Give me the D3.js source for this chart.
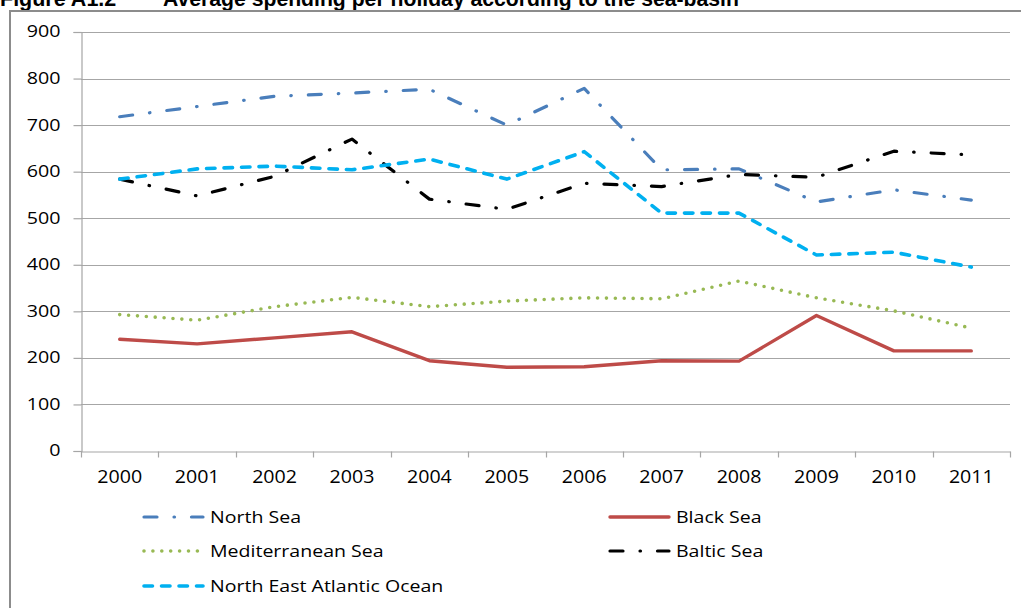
<!DOCTYPE html>
<html>
<head>
<meta charset="utf-8">
<script src="https://cdn.jsdelivr.net/npm/d3@7"></script>
<style>
  body { margin: 0; background: #fff; }
  svg { display: block; }
</style>
</head>
<body>
<svg id="chart" width="1021" height="608"></svg>
<script>
// data
const years = ['2000','2001','2002','2003','2004','2005','2006','2007','2008','2009','2010','2011'];
const northSea = [718, 740, 762, 769, 777, 700, 779, 604, 606, 535, 561, 539];
const blackSea = [240, 230, 243, 256, 194, 180, 181, 194, 193, 291, 215, 215];
const mediterranean = [293, 281, 310, 330, 310, 322, 329, 327, 365, 329, 301, 264];
const balticSea = [584, 548, 590, 670, 541, 519, 575, 568, 594, 588, 644, 636];
const neAtlantic = [584, 606, 612, 604, 627, 584, 643, 511, 511, 421, 427, 395];
const yTicks = [0, 100, 200, 300, 400, 500, 600, 700, 800, 900];

const seriesList = [
  { name: 'North Sea', values: northSea, color: '#4a7ebb', dash: '13,17,0.5,17', width: 3.2, col: 0, row: 0 },
  { name: 'Black Sea', values: blackSea, color: '#be4b48', dash: null, width: 3.4, col: 1, row: 0 },
  { name: 'Mediterranean Sea', values: mediterranean, color: '#98b954', dash: '0,8.9', width: 3.6, col: 0, row: 1 },
  { name: 'Baltic Sea', values: balticSea, color: '#000000', dash: '13,17,0.5,17', width: 3.2, col: 1, row: 1 },
  { name: 'North East Atlantic Ocean', values: neAtlantic, color: '#00b0f0', dash: '8.5,9', width: 3.6, col: 0, row: 2 }
];

const svg = d3.select('#chart');
const font = "'Open Sans', 'DejaVu Sans', sans-serif";

// widen glyphs a little, the scanned figure is stretched horizontally
function stretch(sel, k) {
  sel.each(function () {
    const w = this.getComputedTextLength();
    d3.select(this).attr('textLength', w * k).attr('lengthAdjust', 'spacingAndGlyphs');
  });
}

// title (clipped at the top edge like the scan)
const titleFont = 'Liberation Sans, Arial, sans-serif';
svg.append('text')
  .attr('x', 0).attr('y', 6)
  .attr('font-family', titleFont)
  .attr('font-weight', 'bold')
  .attr('font-size', 21.5)
  .attr('fill', '#000')
  .text('Figure A1.2');
svg.append('text')
  .attr('x', 163).attr('y', 6)
  .attr('font-family', titleFont)
  .attr('font-weight', 'bold')
  .attr('font-size', 21.5)
  .attr('fill', '#000')
  .text('Average spending per holiday according to the sea-basin')
  .call(stretch, 0.985);

// frame
svg.append('line').attr('x1', 9).attr('x2', 1021).attr('y1', 11).attr('y2', 11)
  .attr('stroke', '#8c8c8c').attr('stroke-width', 2);
svg.append('line').attr('x1', 10).attr('x2', 10).attr('y1', 11).attr('y2', 608)
  .attr('stroke', '#8c8c8c').attr('stroke-width', 2);

const plotLeft = 81, plotRight = 1010, plotTop = 32, plotBottom = 451;

const x = d3.scaleBand().domain(years).range([plotLeft, plotRight]);
const y = d3.scaleLinear().domain([0, 900]).range([plotBottom, plotTop]);

// gridlines
svg.append('g')
  .selectAll('line')
  .data(yTicks.filter(d => d > 0))
  .join('line')
    .attr('x1', plotLeft).attr('x2', plotRight)
    .attr('y1', d => Math.round(y(d)) + 0.5).attr('y2', d => Math.round(y(d)) + 0.5)
    .attr('stroke', '#a6a6a6').attr('stroke-width', 1.2);

// y axis
const yAxis = svg.append('g')
  .attr('transform', `translate(${plotLeft + 0.5},0)`)
  .call(d3.axisLeft(y).tickValues(yTicks).tickSize(8).tickPadding(13));
yAxis.select('.domain').attr('stroke', '#a6a6a6').attr('stroke-width', 1.2);
yAxis.selectAll('.tick line').attr('stroke', '#a6a6a6').attr('stroke-width', 1.2);
yAxis.selectAll('.tick text')
  .attr('font-family', font).attr('font-size', 15.5).attr('fill', '#000')
  .call(stretch, 1.27);

// x axis with tick marks at category boundaries
const xAxis = svg.append('g')
  .attr('transform', `translate(0,${plotBottom + 0.5})`)
  .call(d3.axisBottom(x).tickSize(0).tickPadding(19));
xAxis.select('.domain').attr('stroke', '#a6a6a6').attr('stroke-width', 1.2);
xAxis.selectAll('.tick text')
  .attr('font-family', font).attr('font-size', 17.5).attr('fill', '#000')
  .call(stretch, 1.12);
xAxis.selectAll('line.bound')
  .data(years.map(d => x(d)).concat([plotRight]))
  .join('line')
    .attr('class', 'bound')
    .attr('x1', d => Math.round(d) + 0.5).attr('x2', d => Math.round(d) + 0.5)
    .attr('y1', 0).attr('y2', 6)
    .attr('stroke', '#a6a6a6').attr('stroke-width', 1.2);

// lines
const line = d3.line()
  .x((d, i) => x(years[i]) + x.bandwidth() / 2)
  .y(d => y(d));

const drawOrder = [1, 2, 3, 0, 4];
svg.append('g')
  .selectAll('path')
  .data(drawOrder.map(i => seriesList[i]))
  .join('path')
    .attr('d', d => line(d.values))
    .attr('fill', 'none')
    .attr('stroke', d => d.color)
    .attr('stroke-width', d => d.width)
    .attr('stroke-linecap', 'round')
    .attr('stroke-linejoin', 'round')
    .attr('stroke-dasharray', d => d.dash);

// legend
const legX = [143, 609];
const legY = [517, 551, 586];
const leg = svg.append('g')
  .selectAll('g')
  .data(seriesList)
  .join('g')
    .attr('transform', d => `translate(${legX[d.col]},${legY[d.row]})`);
leg.append('line')
  .attr('x1', 1).attr('x2', 60).attr('y1', 0).attr('y2', 0)
  .attr('stroke', d => d.color)
  .attr('stroke-width', d => d.width)
  .attr('stroke-linecap', 'round')
  .attr('stroke-dasharray', d => d.dash);
leg.append('text')
  .attr('x', 67).attr('y', 5.5)
  .attr('font-family', font).attr('font-size', 16.3).attr('fill', '#000')
  .text(d => d.name)
  .call(stretch, 1.2);
</script>
</body>
</html>
